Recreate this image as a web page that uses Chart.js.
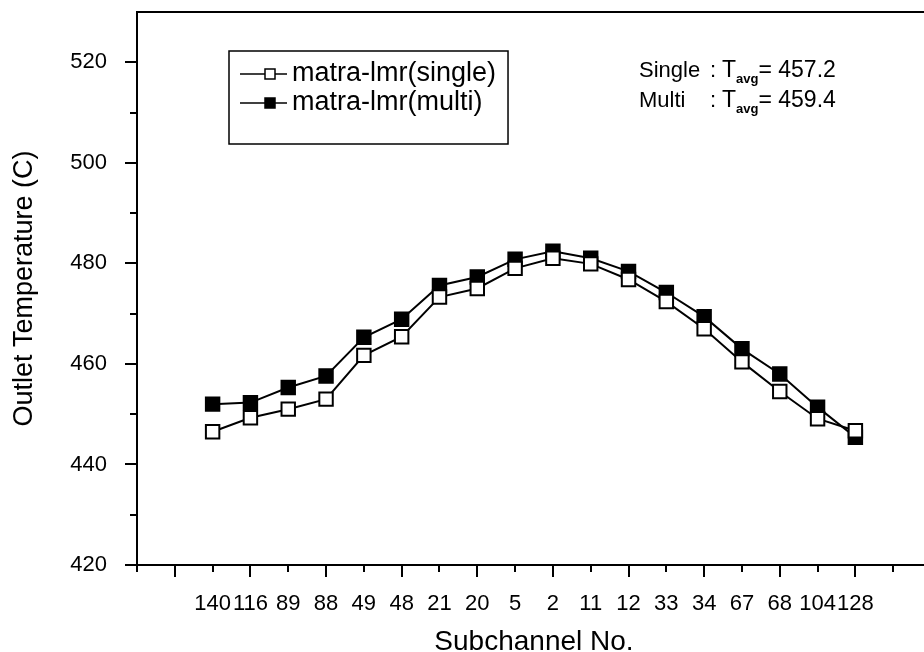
<!DOCTYPE html>
<html>
<head>
<meta charset="utf-8">
<script src="https://cdn.jsdelivr.net/npm/chart.js@4.4.1/dist/chart.umd.min.js"></script>
<style>
  html, body { margin: 0; padding: 0; background: #fff; overflow: hidden; }
  #wrap { width: 950px; height: 652px; }
</style>
</head>
<body>
<div id="wrap"><canvas id="chart" width="950" height="652"></canvas></div>
<script>
const subchannels = ["140", "116", "89", "88", "49", "48", "21", "20", "5", "2", "11", "12", "33", "34", "67", "68", "104", "128"];
const singleTemp = [446.5, 449.3, 451.0, 453.0, 461.7, 465.4, 473.3, 475.0, 479.0, 481.0, 479.9, 476.8, 472.4, 467.0, 460.4, 454.5, 449.1, 446.7];
const multiTemp = [452.0, 452.3, 455.3, 457.6, 465.3, 468.9, 475.6, 477.3, 480.8, 482.4, 481.0, 478.4, 474.2, 469.4, 463.0, 458.0, 451.4, 445.4];
const yTicks = [420, 440, 460, 480, 500, 520];
const yMinorTicks = [430, 450, 470, 490, 510];
const avgSingle = "457.2";
const avgMulti = "459.4";

const FONT = "'Liberation Sans', Arial, sans-serif";
// first category sits on the second tick of the axis
const firstSlot = 2;
const lastSlot = 21;

function toPoints(values) {
  return values.map((v, i) => ({ x: i + firstSlot, y: v }));
}

// tick marks, top frame, x title, legend box and T_avg text
const decorations = {
  id: "decorations",
  afterDraw(chart) {
    const ctx = chart.ctx;
    const area = chart.chartArea;
    const xs = chart.scales.x;
    const ys = chart.scales.y;
    ctx.save();
    ctx.strokeStyle = "#000";
    ctx.lineWidth = 2;

    // top frame line
    ctx.beginPath();
    ctx.moveTo(area.left - 1, area.top);
    ctx.lineTo(area.right, area.top);
    ctx.stroke();

    // x tick marks (outward)
    for (let k = 0; k <= lastSlot; k++) {
      const px = Math.round(xs.getPixelForValue(k));
      const len = k % 2 === 1 ? 12 : 7;
      ctx.beginPath();
      ctx.moveTo(px, area.bottom);
      ctx.lineTo(px, area.bottom + len);
      ctx.stroke();
    }
    // y tick marks (outward)
    yTicks.forEach((v) => {
      const py = Math.round(ys.getPixelForValue(v));
      ctx.beginPath();
      ctx.moveTo(area.left, py);
      ctx.lineTo(area.left - 12, py);
      ctx.stroke();
    });
    yMinorTicks.forEach((v) => {
      const py = Math.round(ys.getPixelForValue(v));
      ctx.beginPath();
      ctx.moveTo(area.left, py);
      ctx.lineTo(area.left - 7, py);
      ctx.stroke();
    });

    // x axis title
    ctx.fillStyle = "#000";
    ctx.font = "28px " + FONT;
    ctx.textAlign = "center";
    ctx.textBaseline = "alphabetic";
    ctx.fillText("Subchannel No.", (area.left + area.right) / 2, 650);

    // legend box
    ctx.textAlign = "left";
    ctx.font = "27px " + FONT;
    const textW = Math.max(...chart.data.datasets.map((ds) => ctx.measureText(ds.label).width));
    ctx.lineWidth = 1.5;
    ctx.strokeRect(229, 51, 292 + textW + 12 - 229, 93);
    const rows = [74, 103];
    chart.data.datasets.forEach((ds, i) => {
      const y = rows[i];
      ctx.lineWidth = 1.5;
      ctx.beginPath();
      ctx.moveTo(240, y);
      ctx.lineTo(287, y);
      ctx.stroke();
      ctx.fillStyle = ds.pointBackgroundColor;
      ctx.fillRect(265, y - 5, 10, 10);
      ctx.strokeRect(265, y - 5, 10, 10);
      ctx.fillStyle = "#000";
      ctx.font = "27px " + FONT;
      ctx.textBaseline = "middle";
      ctx.fillText(ds.label, 292, y);
    });

    // average temperature notes
    const notes = [["Single", avgSingle, 71], ["Multi", avgMulti, 101]];
    notes.forEach(([name, val, y]) => {
      ctx.fillStyle = "#000";
      ctx.textBaseline = "middle";
      ctx.font = "22px " + FONT;
      ctx.fillText(name, 639, y);
      ctx.fillText(":", 710, y);
      ctx.font = "23px " + FONT;
      ctx.fillText("T", 722, y);
      const tw = ctx.measureText("T").width;
      ctx.font = "bold 13px " + FONT;
      ctx.fillText("avg", 722 + tw, y + 8);
      const sw = ctx.measureText("avg").width;
      ctx.font = "23px " + FONT;
      ctx.fillText("= " + val, 722 + tw + sw, y);
    });
    ctx.restore();
  },
};

new Chart(document.getElementById("chart"), {
  type: "line",
  data: {
    datasets: [
      {
        label: "matra-lmr(single)",
        data: toPoints(singleTemp),
        borderColor: "#000",
        borderWidth: 2,
        pointStyle: "rect",
        pointRadius: 9.5,
        pointBorderWidth: 2,
        pointBackgroundColor: "#fff",
        pointBorderColor: "#000",
        tension: 0,
      },
      {
        label: "matra-lmr(multi)",
        data: toPoints(multiTemp),
        borderColor: "#000",
        borderWidth: 2,
        pointStyle: "rect",
        pointRadius: 9.5,
        pointBorderWidth: 2,
        pointBackgroundColor: "#000",
        pointBorderColor: "#000",
        tension: 0,
      },
    ],
  },
  options: {
    responsive: false,
    animation: false,
    layout: { padding: { top: 12, right: 19, left: 0, bottom: 0 } },
    plugins: {
      legend: { display: false },
      tooltip: { enabled: false },
    },
    scales: {
      x: {
        type: "linear",
        min: 0,
        max: lastSlot,
        afterBuildTicks: (scale) => {
          const t = [];
          for (let k = 0; k <= lastSlot; k++) t.push({ value: k });
          scale.ticks = t;
        },
        afterFit: (scale) => {
          scale.height = 87;
          scale.paddingLeft = 0;
          scale.paddingRight = 0;
        },
        grid: { display: false },
        border: { display: true, color: "#000", width: 2 },
        ticks: {
          autoSkip: false,
          maxRotation: 0,
          padding: 18,
          color: "#000",
          font: { family: FONT, size: 22 },
          callback: (v) => subchannels[v - firstSlot] ?? "",
        },
        title: { display: false },
      },
      y: {
        min: 420,
        max: 530,
        afterBuildTicks: (scale) => {
          scale.ticks = yTicks.map((v) => ({ value: v }));
        },
        afterFit: (scale) => {
          scale.width = 137;
          scale.paddingTop = 0;
          scale.paddingBottom = 0;
        },
        grid: { display: false },
        border: { display: true, color: "#000", width: 2 },
        ticks: {
          padding: 22,
          color: "#000",
          font: { family: FONT, size: 22 },
        },
        title: {
          display: true,
          text: "Outlet Temperature (C)",
          color: "#000",
          font: { family: FONT, size: 27 },
          padding: { top: 8, bottom: 0 },
        },
      },
    },
  },
  plugins: [decorations],
});
</script>
</body>
</html>
